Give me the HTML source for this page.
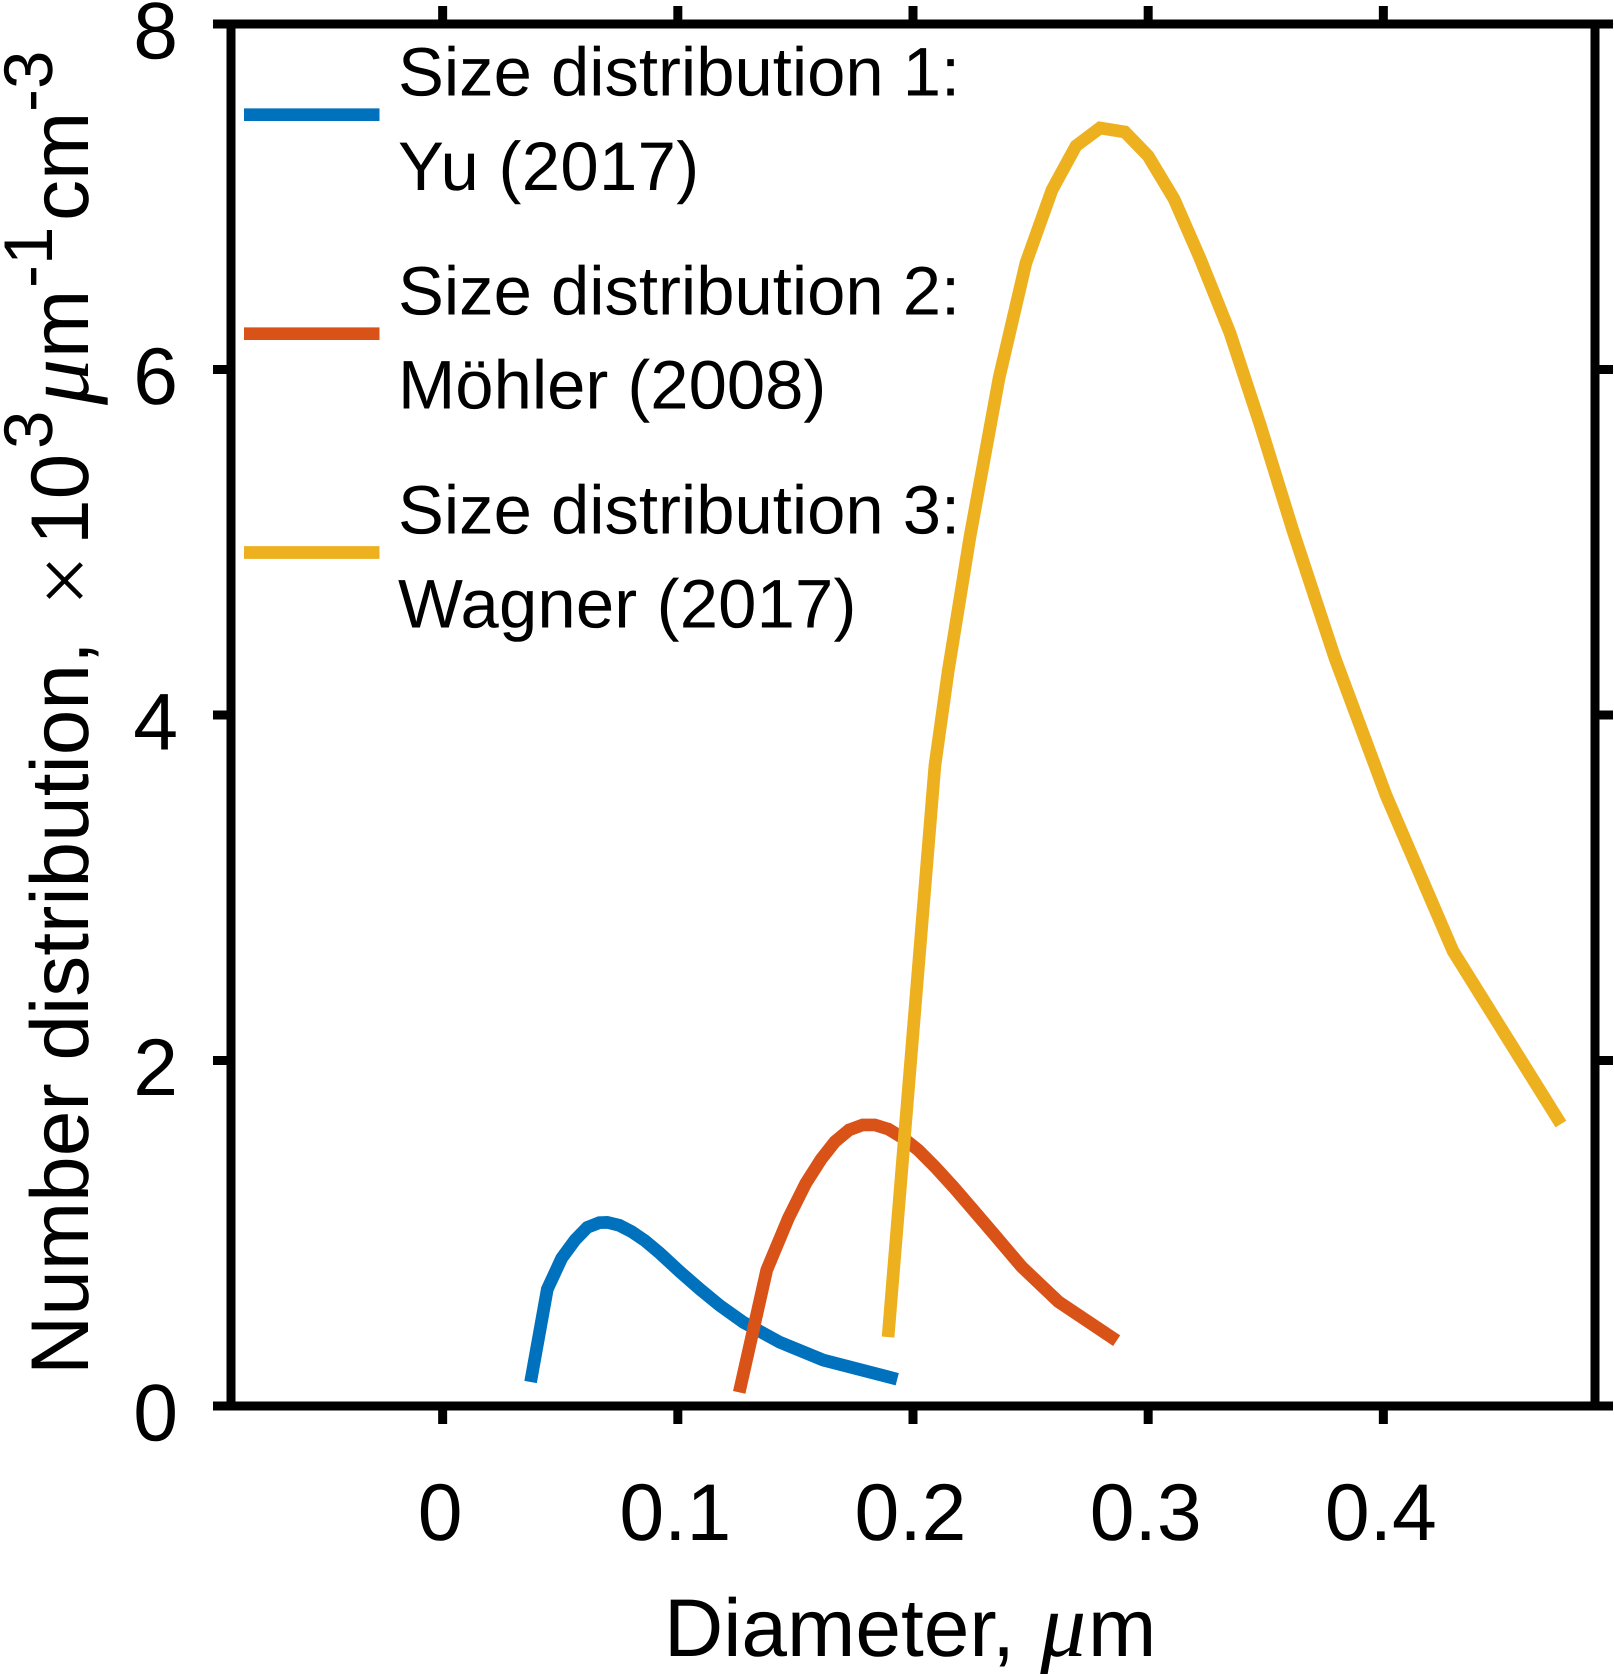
<!DOCTYPE html>
<html lang="en">
<head>
<meta charset="utf-8">
<title>Number distribution vs diameter</title>
<style>
html,body{margin:0;padding:0;background:#fff;}
svg{display:block;}
text{font-family:"Liberation Sans",Arial,sans-serif;fill:#000;text-rendering:geometricPrecision;}
.tick{font-size:80.5px;}
.axt{font-size:82px;}
.sup{font-size:69px;}
.leg{font-size:68.8px;}
.mu{font-family:"Liberation Serif",serif;font-style:italic;font-size:92px;}
</style>
</head>
<body>
<svg id="chart" xmlns="http://www.w3.org/2000/svg" width="1614" height="1674" viewBox="0 0 1614 1674">
  <rect x="0" y="0" width="1614" height="1674" fill="#fff"/>
  <g id="series-layer"></g>
  <g id="axes-layer"></g>

  <g>
    <line x1="244" x2="379.5" y1="114.7" y2="114.7" stroke="#0072BD" stroke-width="12.7"/>
    <line x1="244" x2="379.5" y1="333.7" y2="333.7" stroke="#D95319" stroke-width="12.7"/>
    <line x1="244" x2="379.5" y1="552.5" y2="552.5" stroke="#EDB120" stroke-width="12.7"/>
    <text class="leg" x="398" y="95.5">Size distribution 1:</text>
    <text class="leg" x="398" y="190" style="letter-spacing:.35px">Yu (2017)</text>
    <text class="leg" x="398" y="314.5">Size distribution 2:</text>
    <text class="leg" x="398" y="408.5">Möhler (2008)</text>
    <text class="leg" x="398" y="533.5">Size distribution 3:</text>
    <text class="leg" x="398" y="627.5" style="letter-spacing:.17px">Wagner (2017)</text>
  </g>

  <g>
    <text class="axt" x="664" y="1656">Diameter,</text>
    <text class="mu" x="1040" y="1656">μ</text>
    <text class="axt" x="1088" y="1656">m</text>
  </g>

  <g transform="rotate(-90)">
    <text class="axt" x="-1375" y="88">Number distribution,</text>
    <text x="-606" y="94.5" style="font-family:'Liberation Serif',serif;font-size:90px;">×</text>
    <text class="axt" x="-545" y="88">10</text>
    <text class="sup" x="-449" y="52">3</text>
    <text class="mu" x="-405" y="88">μ</text>
    <text class="axt" x="-358" y="88">m</text>
    <text class="sup" x="-288" y="52">-1</text>
    <text class="axt" x="-221" y="88">cm</text>
    <text class="sup" x="-112" y="52">-3</text>
  </g>
</svg>
<script>
var xTicks = [0, 0.1, 0.2, 0.3, 0.4];
var xTickLabels = ["0", "0.1", "0.2", "0.3", "0.4"];
var yTicks = [0, 2, 4, 6, 8];
var yTickLabels = ["0", "2", "4", "6", "8"];
var xLimits = [-0.09, 0.49];
var yLimits = [0, 8];

var series1Diameter = [0.0374,0.0445,0.0506,0.0563,0.0615,0.0666,0.0700,0.0751,0.0804,0.0860,0.0924,0.1009,0.1094,0.1179,0.1278,0.1434,0.1618,0.1933];
var series1Count = [0.139,0.676,0.855,0.961,1.034,1.061,1.063,1.046,1.009,0.957,0.884,0.777,0.676,0.581,0.485,0.369,0.266,0.155];

var series2Diameter = [0.1261,0.1378,0.1470,0.1544,0.1609,0.1668,0.1728,0.1786,0.1838,0.1895,0.1959,0.2022,0.2093,0.2171,0.2256,0.2341,0.2462,0.2618,0.2866];
var series2Count = [0.079,0.787,1.087,1.289,1.428,1.530,1.598,1.627,1.627,1.603,1.550,1.482,1.385,1.269,1.135,1.000,0.806,0.604,0.378];

var series3Diameter = [0.1894,0.2093,0.2149,0.2242,0.2366,0.2480,0.2591,0.2693,0.2795,0.2901,0.3000,0.3110,0.3220,0.3348,0.3475,0.3616,0.3794,0.4011,0.4296,0.4755];
var series3Count = [0.399,3.705,4.249,5.030,5.951,6.616,7.039,7.294,7.398,7.375,7.236,6.987,6.645,6.211,5.685,5.065,4.330,3.537,2.634,1.632];

var NS = "http://www.w3.org/2000/svg";
var plotLeft = 231, plotRight = 1595, plotTop = 24, plotBottom = 1406;
var tickLen = 18, axisWidth = 9;

function xScale(v) {
  return plotLeft + (v - xLimits[0]) / (xLimits[1] - xLimits[0]) * (plotRight - plotLeft);
}
function yScale(v) {
  return plotBottom - (v - yLimits[0]) / (yLimits[1] - yLimits[0]) * (plotBottom - plotTop);
}
function makeLine(x1, y1, x2, y2) {
  var el = document.createElementNS(NS, "line");
  el.setAttribute("x1", x1);
  el.setAttribute("y1", y1);
  el.setAttribute("x2", x2);
  el.setAttribute("y2", y2);
  el.setAttribute("stroke", "#000");
  el.setAttribute("stroke-width", axisWidth);
  return el;
}
function drawSeries(xs, ys, color, name) {
  var pts = [];
  for (var i = 0; i < xs.length; i++) {
    pts.push(xScale(xs[i]).toFixed(2) + "," + yScale(ys[i]).toFixed(2));
  }
  var el = document.createElementNS(NS, "polyline");
  el.setAttribute("points", pts.join(" "));
  el.setAttribute("fill", "none");
  el.setAttribute("stroke", color);
  el.setAttribute("stroke-width", "12.7");
  el.setAttribute("stroke-linejoin", "miter");
  el.setAttribute("stroke-linecap", "butt");
  
  
  document.getElementById("series-layer").appendChild(el);
}

drawSeries(series1Diameter, series1Count, "#0072BD", "series-yu-2017");
drawSeries(series2Diameter, series2Count, "#D95319", "series-mohler-2008");
drawSeries(series3Diameter, series3Count, "#EDB120", "series-wagner-2017");

var axes = document.getElementById("axes-layer");

var borderTop = makeLine(plotLeft, plotTop, plotRight + 4.5, plotTop);


axes.appendChild(borderTop);
var borderBottom = makeLine(plotLeft, plotBottom, plotRight + 4.5, plotBottom);


axes.appendChild(borderBottom);
var borderLeft = makeLine(plotLeft, plotTop - 4.5, plotLeft, plotBottom + 4.5);


axes.appendChild(borderLeft);
var borderRight = makeLine(plotRight, plotTop - 4.5, plotRight, plotBottom + 4.5);


axes.appendChild(borderRight);

xTicks.forEach(function (t, i) {
  var x = xScale(t);
  var bottomTick = makeLine(x, plotBottom, x, plotBottom + tickLen);
  
  
  axes.appendChild(bottomTick);
  var topTick = makeLine(x, plotTop, x, plotTop - tickLen);
  
  
  axes.appendChild(topTick);
  var label = document.createElementNS(NS, "text");
  label.setAttribute("class", "tick");
  label.setAttribute("x", x - 2.5);
  label.setAttribute("y", plotBottom + 134);
  label.setAttribute("text-anchor", "middle");
  label.textContent = xTickLabels[i];
  
  
  axes.appendChild(label);
});

yTicks.forEach(function (t, i) {
  var y = yScale(t);
  var leftTick = makeLine(plotLeft, y, plotLeft - tickLen, y);
  
  
  axes.appendChild(leftTick);
  var rightTick = makeLine(plotRight, y, plotRight + tickLen, y);
  
  
  axes.appendChild(rightTick);
  var label = document.createElementNS(NS, "text");
  label.setAttribute("class", "tick");
  label.setAttribute("x", 178);
  label.setAttribute("y", y + 34.5);
  label.setAttribute("text-anchor", "end");
  label.textContent = yTickLabels[i];
  
  
  axes.appendChild(label);
});
</script>
</body>
</html>
